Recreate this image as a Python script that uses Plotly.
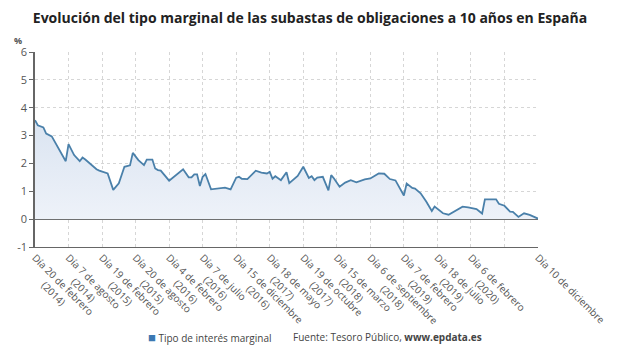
import plotly.graph_objects as go

# Auction number (category index along the x axis) and marginal rate (%)
auction = [0, 1, 3, 4, 6, 11, 12, 14, 16, 17, 18, 22, 23, 26, 28, 30, 32, 34, 35, 36,
           37, 39, 40, 42, 43, 44, 45, 48, 53, 55, 56, 57, 58, 59, 60, 61, 63, 68, 70, 72,
           73, 74, 76, 79, 81, 83, 84, 85, 86, 88, 90, 91, 94, 96, 98, 99, 100, 101, 103, 105,
           106, 107, 109, 111, 113, 115, 118, 120, 123, 125, 127, 129, 132, 133, 135, 136, 138, 140, 142, 143,
           145, 146, 148, 150, 151, 153, 155, 158, 160, 161, 165, 166, 168, 170, 171, 173, 175, 177, 180]
rate = [3.55, 3.37, 3.29, 3.07, 2.97, 2.08, 2.69, 2.30, 2.08, 2.21, 2.14, 1.79, 1.74, 1.64, 1.05, 1.29, 1.88, 1.93, 2.38, 2.24,
        2.12, 1.94, 2.14, 2.14, 1.82, 1.76, 1.74, 1.38, 1.79, 1.50, 1.50, 1.61, 1.61, 1.19, 1.52, 1.62, 1.07, 1.13, 1.07, 1.49,
        1.52, 1.45, 1.44, 1.74, 1.67, 1.64, 1.70, 1.45, 1.54, 1.40, 1.68, 1.29, 1.55, 1.88, 1.48, 1.54, 1.40, 1.49, 1.52, 1.03,
        1.58, 1.46, 1.16, 1.31, 1.40, 1.32, 1.43, 1.46, 1.64, 1.63, 1.44, 1.39, 0.85, 1.28, 1.12, 1.10, 0.93, 0.63, 0.29, 0.45,
        0.27, 0.21, 0.16, 0.27, 0.33, 0.45, 0.42, 0.36, 0.20, 0.71, 0.71, 0.55, 0.48, 0.27, 0.26, 0.08, 0.21, 0.15, 0.02]

tick_pos = [0, 12, 24, 36, 48, 60, 72, 84, 96, 108, 120, 132, 144, 156, 168, 180]
tick_day = ["Día 20 de febrero", "Día 7 de agosto", "Día 19 de febrero", "Día 20 de agosto",
            "Día 4 de febrero", "Día 7 de julio", "Día 15 de diciembre", "Día 18 de mayo",
            "Día 19 de octubre", "Día 15 de marzo", "Día 6 de septiembre", "Día 7 de febrero",
            "Día 18 de julio", "Día 6 de febrero", "", "Día 10 de diciembre"]
tick_year = ["2014", "2014", "2015", "2015", "2016", "2016", "2016", "2017",
             "2017", "2018", "2018", "2019", "2019", "2020", "", ""]

y_ticks = [-1, 0, 1, 2, 3, 4, 5, 6]
y_labels = ["-1", "0", "1", "2", "3", "4", "5", "6"]

title = "Evolución del tipo marginal de las subastas de obligaciones a 10 años en España"
series_name = "Tipo de interés marginal"
source = "Fuente: Tesoro Público, <b>www.epdata.es</b>"

NB = "\u00a0"
ticktext = []
for d, yv in zip(tick_day, tick_year):
    if yv:
        pad = max(0, round(((len(d) - len(yv) - 2) * 4.9) / 2 / 2.7))
        ticktext.append(d + "<br>" + NB * pad + "(" + yv + ")")
    else:
        ticktext.append(d)

L, R, T, B = 35, 78, 52, 103
W, H = 620, 350
pw, ph = W - L - R, H - T - B

def px2paper_x(px):
    return (px - L) / pw

def px2paper_y(py):
    return (H - B - py) / ph

fig = go.Figure()
fig.add_trace(go.Scatter(
    x=auction, y=rate, mode="lines", name=series_name,
    line=dict(color="#4a80aa", width=1.8),
    fill="tozeroy",
    fillgradient=dict(type="vertical", start=0, stop=3.6,
                      colorscale=[[0, "rgba(238,242,249,1)"], [1, "rgba(218,228,241,1)"]]),
    showlegend=False,
))

fig.update_layout(
    width=W, height=H,
    margin=dict(l=L, r=R, t=T, b=B),
    paper_bgcolor="white", plot_bgcolor="white",
    font=dict(family="Open Sans", color="#555"),
    title=dict(text="<b>" + title + "</b>", x=0.5, xref="container", xanchor="center",
               y=1 - 18 / H, yanchor="middle",
               font=dict(family="Open Sans", size=14, color="#222")),
    xaxis=dict(
        range=[0, 180], tickmode="array", tickvals=tick_pos, ticktext=ticktext,
        tickangle=45, tickfont=dict(size=10, color="#555"),
        showgrid=True, gridcolor="#d6d6d6", griddash="dot", gridwidth=1,
        showline=True, linecolor="#666", linewidth=1,
        ticks="", zeroline=False,
    ),
    yaxis=dict(
        range=[-1, 6], tickmode="array", tickvals=y_ticks, ticktext=y_labels,
        tickfont=dict(size=11, color="#555"),
        showgrid=True, gridcolor="#d6d6d6", griddash="dot", gridwidth=1,
        showline=True, linecolor="#666", linewidth=1.5,
        ticks="outside", ticklen=4, tickcolor="#666",
        zeroline=True, zerolinecolor="#444", zerolinewidth=1.5,
    ),
    annotations=[
        dict(text="<b>%</b>", x=px2paper_x(18), y=px2paper_y(40), xref="paper", yref="paper",
             showarrow=False, xanchor="center", yanchor="middle",
             font=dict(size=9, color="#555")),
        dict(text="<span style='color:#3b78b2;font-size:13px'>■</span> " + series_name,
             x=px2paper_x(276), y=px2paper_y(337), xref="paper", yref="paper",
             showarrow=False, xanchor="right", yanchor="middle",
             font=dict(size=10, color="#444")),
        dict(text=source, x=px2paper_x(293), y=px2paper_y(337), xref="paper", yref="paper",
             showarrow=False, xanchor="left", yanchor="middle",
             font=dict(size=10, color="#444")),
    ],
)

fig.write_html("out.html")
